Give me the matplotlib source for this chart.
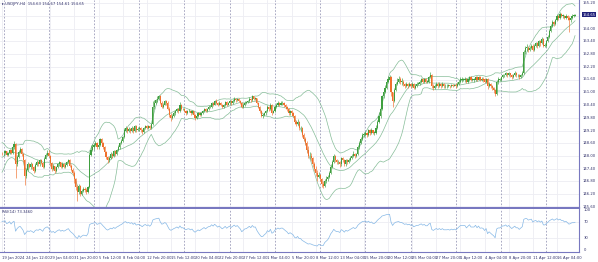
"""USDJPY H4 candles with Bollinger bands and RSI, MT4 style."""

import matplotlib

matplotlib.use('Agg')
import matplotlib.pyplot as plt
import numpy as np
import pandas as pd

# 20 bars before the first visible one, only used to seed the indicators
pre_closes = [147.05, 147.20, 147.10, 147.35, 147.60, 147.75, 147.90, 148.05, 148.30, 148.20,
              148.10, 147.95, 147.90, 148.05, 148.20, 148.30, 148.15, 148.05, 148.25, 148.15]

# visible bars: Fri 19 Jan 20:00, then one row per trading day (6 x H4)
closes = [
    148.12,
    148.15, 148.22, 148.05, 148.12, 148.30, 148.15,
    148.40, 148.55, 147.60, 147.95, 148.20, 148.32,
    148.10, 147.80, 147.05, 147.35, 147.60, 147.50,
    147.62, 147.48, 147.30, 147.58, 147.70, 147.62,
    147.80, 147.68, 147.50, 147.88, 148.05, 148.15,
    148.00, 147.65, 147.40, 147.52, 147.30, 147.48,
    147.60, 147.70, 147.50, 147.62, 147.50, 147.58,
    147.70, 147.80, 147.55, 147.35, 147.20, 146.90,
    146.55, 146.30, 146.60, 146.20, 146.35, 146.45,
    146.40, 146.30, 146.55, 148.05, 148.30, 148.40,
    148.50, 148.62, 148.40, 148.52, 148.78, 148.62,
    148.40, 148.20, 147.95, 147.80, 147.92, 148.10,
    148.00, 148.22, 148.10, 148.30, 148.42, 148.60,
    148.72, 148.90, 149.20, 149.30, 149.18, 149.28,
    149.20, 149.32, 149.18, 149.40, 149.22, 149.28,
    149.30, 149.22, 149.12, 149.30, 149.40, 149.32,
    149.40, 149.30, 149.50, 150.30, 150.50, 150.62,
    150.70, 150.80, 150.50, 150.30, 150.42, 150.60,
    150.50, 150.22, 149.92, 149.80, 149.90, 150.02,
    150.10, 150.22, 150.10, 150.40, 150.20, 150.22,
    150.10, 150.02, 150.10, 150.12, 150.02, 150.10,
    149.92, 149.80, 149.90, 150.00, 149.92, 150.02,
    150.10, 150.20, 150.10, 150.22, 150.30, 150.32,
    150.48, 150.40, 150.58, 150.50, 150.40, 150.50,
    150.42, 150.32, 150.40, 150.52, 150.40, 150.50,
    150.58, 150.50, 150.60, 150.70, 150.62, 150.70,
    150.60, 150.50, 150.30, 150.40, 150.50, 150.52,
    150.60, 150.70, 150.62, 150.80, 150.70, 150.72,
    150.50, 150.30, 150.10, 149.90, 149.92, 150.02,
    150.10, 150.30, 150.20, 150.40, 150.02, 150.10,
    150.30, 150.40, 150.50, 150.42, 150.50, 150.50,
    150.40, 150.30, 150.20, 150.02, 150.10, 150.00,
    149.90, 149.60, 149.50, 149.60, 149.30, 149.30,
    149.00, 148.80, 148.60, 148.30, 148.00, 148.02,
    147.90, 147.60, 147.40, 147.20, 147.00, 147.10,
    146.90, 146.70, 146.60, 146.80, 146.90, 147.00,
    147.20, 147.50, 147.70, 148.00, 147.80, 147.70,
    147.70, 147.60, 147.90, 147.80, 147.60, 147.80,
    147.70, 147.80, 147.90, 148.00, 148.10, 148.00,
    148.10, 148.40, 148.60, 148.80, 149.00, 149.00,
    149.10, 149.00, 149.20, 149.10, 149.20, 149.10,
    149.10, 149.30, 149.60, 149.90, 150.20, 150.80,
    151.00, 151.20, 151.50, 151.60, 151.70, 151.00,
    150.60, 151.10, 151.40, 151.50, 151.60, 151.50,
    151.50, 151.40, 151.30, 151.40, 151.30, 151.40,
    151.30, 151.40, 151.20, 151.30, 151.40, 151.40,
    151.50, 151.60, 151.50, 151.60, 151.50, 151.50,
    151.70, 151.80, 151.30, 151.20, 151.30, 151.40,
    151.30, 151.40, 151.30, 151.40, 151.30, 151.30,
    151.30, 151.32, 151.28, 151.35, 151.30, 151.35,
    151.30, 151.40, 151.50, 151.60, 151.60, 151.60,
    151.60, 151.50, 151.60, 151.70, 151.60, 151.60,
    151.60, 151.70, 151.60, 151.70, 151.60, 151.62,
    151.60, 151.50, 151.60, 151.30, 151.40, 151.30,
    151.20, 151.10, 150.90, 151.50, 151.60, 151.60,
    151.70, 151.80, 151.80, 151.90, 151.80, 151.90,
    151.80, 151.70, 151.80, 151.90, 151.80, 151.80,
    151.70, 151.80, 151.90, 152.90, 153.10, 153.10,
    153.00, 153.10, 153.20, 153.00, 153.20, 153.30,
    153.20, 153.40, 153.30, 153.50, 153.20, 153.20,
    153.40, 153.60, 153.90, 154.10, 154.30, 154.20,
    154.40, 154.60, 154.50, 154.70, 154.60, 154.60,
    154.50, 154.60, 154.50, 154.40, 154.50, 154.60,
    154.60, 154.65,
]

highs = [
    148.20,
    148.25, 148.30, 148.25, 148.20, 148.35, 148.32,
    148.48, 148.70, 148.60, 148.05, 148.28, 148.40,
    148.38, 148.15, 147.85, 147.45, 147.70, 147.68,
    147.70, 147.65, 147.55, 147.65, 147.82, 147.75,
    147.88, 147.85, 147.72, 147.95, 148.12, 148.30,
    148.30, 148.05, 147.70, 147.60, 147.55, 147.55,
    147.68, 147.78, 147.72, 147.70, 147.65, 147.65,
    147.78, 147.88, 147.85, 147.60, 147.45, 147.30,
    146.95, 146.65, 146.70, 146.65, 146.45, 146.55,
    146.52, 146.48, 146.60, 148.20, 148.50, 148.55,
    148.60, 148.70, 148.68, 148.60, 148.85, 148.85,
    148.68, 148.45, 148.25, 148.00, 148.00, 148.18,
    148.15, 148.30, 148.28, 148.35, 148.50, 148.68,
    148.80, 148.95, 149.30, 149.40, 149.35, 149.35,
    149.32, 149.40, 149.35, 149.48, 149.45, 149.35,
    149.40, 149.35, 149.28, 149.35, 149.48, 149.45,
    149.48, 149.45, 149.55, 150.60, 150.62, 150.70,
    150.80, 150.88, 150.85, 150.58, 150.50, 150.65,
    150.65, 150.58, 150.30, 150.00, 149.98, 150.10,
    150.18, 150.28, 150.28, 150.55, 150.45, 150.28,
    150.28, 150.15, 150.18, 150.20, 150.18, 150.15,
    150.12, 149.98, 149.98, 150.08, 150.05, 150.08,
    150.15, 150.28, 150.25, 150.28, 150.38, 150.40,
    150.55, 150.52, 150.65, 150.68, 150.55, 150.58,
    150.55, 150.45, 150.45, 150.60, 150.58, 150.55,
    150.65, 150.62, 150.68, 150.78, 150.75, 150.75,
    150.75, 150.65, 150.55, 150.48, 150.58, 150.58,
    150.65, 150.78, 150.75, 150.85, 150.84, 150.78,
    150.75, 150.55, 150.35, 150.15, 150.00, 150.08,
    150.18, 150.38, 150.35, 150.48, 150.45, 150.18,
    150.38, 150.48, 150.58, 150.55, 150.58, 150.58,
    150.55, 150.45, 150.35, 150.25, 150.18, 150.15,
    150.08, 149.95, 149.70, 149.72, 149.65, 149.40,
    149.35, 149.10, 148.90, 148.70, 148.45, 148.20,
    148.15, 147.95, 147.70, 147.55, 147.35, 147.25,
    147.15, 146.95, 146.80, 146.90, 147.05, 147.10,
    147.30, 147.60, 147.80, 148.10, 148.05, 147.85,
    147.80, 147.75, 147.95, 147.95, 147.85, 147.88,
    147.88, 147.90, 147.98, 148.10, 148.25, 148.15,
    148.15, 148.50, 148.70, 148.90, 149.10, 149.15,
    149.20, 149.15, 149.28, 149.25, 149.30, 149.22,
    149.20, 149.45, 149.70, 150.05, 150.30, 150.85,
    151.10, 151.35, 151.60, 151.75, 151.82, 151.75,
    150.95, 151.20, 151.50, 151.65, 151.78, 151.70,
    151.65, 151.58, 151.45, 151.50, 151.45, 151.48,
    151.45, 151.48, 151.45, 151.38, 151.48, 151.50,
    151.58, 151.68, 151.65, 151.68, 151.65, 151.58,
    151.78, 151.97, 151.85, 151.40, 151.38, 151.48,
    151.48, 151.50, 151.45, 151.48, 151.45, 151.38,
    151.38, 151.38, 151.35, 151.40, 151.38, 151.40,
    151.42, 151.48, 151.58, 151.70, 151.70, 151.68,
    151.70, 151.65, 151.68, 151.78, 151.78, 151.68,
    151.68, 151.78, 151.75, 151.78, 151.75, 151.70,
    151.70, 151.65, 151.68, 151.65, 151.48, 151.45,
    151.35, 151.25, 151.15, 151.60, 151.70, 151.68,
    151.78, 151.85, 151.88, 151.95, 151.92, 151.95,
    151.92, 151.85, 151.88, 151.98, 151.95, 151.88,
    151.85, 151.88, 151.98, 153.00, 153.20, 153.25,
    153.18, 153.20, 153.28, 153.25, 153.28, 153.38,
    153.35, 153.45, 153.45, 153.60, 153.55, 153.30,
    153.45, 153.68, 154.00, 154.20, 154.40, 154.35,
    154.45, 154.68, 154.65, 154.78, 154.75, 154.70,
    154.65, 154.70, 154.62, 154.60, 154.58, 154.68,
    154.70, 154.68,
]

lows = [
    148.05,
    148.02, 148.08, 147.98, 148.00, 148.08, 148.08,
    148.10, 148.35, 146.95, 147.55, 147.90, 148.15,
    148.02, 147.72, 146.65, 146.95, 147.30, 147.42,
    147.40, 147.40, 147.22, 147.25, 147.52, 147.55,
    147.55, 147.62, 147.42, 147.45, 147.85, 148.00,
    147.95, 147.55, 147.30, 147.35, 147.22, 147.25,
    147.42, 147.55, 147.45, 147.45, 147.42, 147.45,
    147.55, 147.65, 147.50, 147.28, 147.10, 146.75,
    146.40, 145.89, 146.20, 146.10, 146.15, 146.30,
    146.30, 146.20, 146.25, 146.50, 148.00, 148.25,
    148.30, 148.45, 148.32, 148.35, 148.45, 148.55,
    148.35, 148.12, 147.85, 147.65, 147.72, 147.88,
    147.92, 147.95, 148.02, 148.05, 148.25, 148.35,
    148.55, 148.65, 148.85, 149.12, 149.10, 149.12,
    149.10, 149.15, 149.10, 149.12, 149.15, 149.18,
    149.18, 149.15, 149.05, 149.08, 149.25, 149.28,
    149.25, 149.25, 149.25, 149.45, 150.20, 150.45,
    150.55, 150.65, 150.45, 150.25, 150.25, 150.38,
    150.40, 150.15, 149.85, 149.65, 149.72, 149.85,
    149.95, 150.05, 150.02, 150.05, 150.15, 150.15,
    150.05, 149.95, 149.98, 150.05, 149.95, 149.98,
    149.85, 149.70, 149.75, 149.85, 149.88, 149.88,
    149.98, 150.05, 150.05, 150.08, 150.15, 150.25,
    150.28, 150.35, 150.38, 150.45, 150.35, 150.38,
    150.35, 150.25, 150.28, 150.35, 150.35, 150.38,
    150.45, 150.42, 150.45, 150.55, 150.55, 150.58,
    150.52, 150.45, 150.25, 150.25, 150.35, 150.45,
    150.48, 150.55, 150.55, 150.58, 150.65, 150.62,
    150.45, 150.25, 150.02, 149.85, 149.80, 149.88,
    149.95, 150.05, 150.12, 150.15, 149.92, 150.00,
    150.05, 150.25, 150.35, 150.35, 150.38, 150.42,
    150.32, 150.22, 150.12, 149.95, 149.95, 149.92,
    149.82, 149.50, 149.40, 149.45, 149.22, 149.20,
    148.90, 148.70, 148.50, 148.15, 147.90, 147.85,
    147.75, 147.50, 147.30, 147.05, 146.80, 146.95,
    146.80, 146.55, 146.48, 146.55, 146.72, 146.80,
    146.95, 147.15, 147.45, 147.65, 147.70, 147.62,
    147.60, 147.50, 147.55, 147.70, 147.55, 147.55,
    147.60, 147.65, 147.75, 147.85, 147.95, 147.92,
    147.95, 148.05, 148.35, 148.55, 148.75, 148.88,
    148.95, 148.90, 148.95, 149.00, 149.05, 149.02,
    148.98, 149.05, 149.25, 149.55, 149.80, 150.15,
    150.75, 150.95, 151.15, 151.45, 151.55, 150.80,
    150.30, 150.55, 151.05, 151.35, 151.45, 151.40,
    151.35, 151.30, 151.20, 151.25, 151.22, 151.28,
    151.22, 151.25, 151.15, 151.15, 151.25, 151.32,
    151.35, 151.45, 151.42, 151.45, 151.45, 151.42,
    151.45, 151.65, 151.20, 151.10, 151.15, 151.25,
    151.22, 151.25, 151.22, 151.25, 151.22, 151.22,
    151.22, 151.25, 151.22, 151.25, 151.25, 151.28,
    151.20, 151.25, 151.35, 151.45, 151.50, 151.52,
    151.50, 151.42, 151.45, 151.55, 151.52, 151.52,
    151.50, 151.55, 151.55, 151.58, 151.55, 151.55,
    151.50, 151.42, 151.45, 151.15, 151.25, 151.22,
    151.10, 150.95, 150.80, 150.85, 151.40, 151.52,
    151.55, 151.65, 151.70, 151.75, 151.72, 151.75,
    151.72, 151.62, 151.65, 151.75, 151.72, 151.72,
    151.62, 151.65, 151.75, 151.85, 152.80, 152.95,
    152.90, 152.95, 153.05, 152.95, 152.95, 153.15,
    153.10, 153.15, 153.20, 153.25, 153.15, 153.12,
    153.15, 153.35, 153.55, 153.85, 154.05, 154.12,
    154.15, 154.35, 154.40, 154.45, 154.52, 154.50,
    154.45, 154.45, 154.40, 153.85, 154.30, 154.45,
    154.52, 154.58,
]

price_ticks = [155.20, 154.60, 154.00, 153.40, 152.80, 152.20, 151.60, 151.00, 150.40,
               149.80, 149.20, 148.60, 148.00, 147.40, 146.80, 146.20, 145.60]
rsi_ticks = [100, 70, 30, 0]
date_labels = ['19 Jan 2024', '24 Jan 12:00', '29 Jan 04:00', '31 Jan 20:00', '5 Feb 12:00',
               '8 Feb 04:00', '12 Feb 20:00', '15 Feb 12:00', '20 Feb 04:00', '22 Feb 20:00',
               '27 Feb 12:00', '1 Mar 04:00', '5 Mar 20:00', '8 Mar 12:00', '13 Mar 04:00',
               '15 Mar 20:00', '20 Mar 12:00', '25 Mar 04:00', '27 Mar 20:00', '1 Apr 12:00',
               '4 Apr 04:00', '8 Apr 20:00', '11 Apr 12:00', '16 Apr 04:00']
label_step = 16      # bars between time labels
week_bars = 30       # H4 bars per trading week, first Monday is bar 1

header = 'USDJPY,H4  154.63 154.67 154.61 154.65'
rsi_title = 'RSI(14) 73.3460'
last_price = '154.65'

UP = '#3f9f3f'
DOWN = '#f0702c'
BAND = '#86bd98'
AXIS = '#7878c0'
GRID = '#ededf3'
SEP = '#9a9ab8'
TEXT = '#30306a'
FS = 2.7

W, H = 598, 262
fig = plt.figure(figsize=(W / 100, H / 100), dpi=100)
fig.patch.set_facecolor('white')


def px_box(left, top, right, bottom):
    return [left / W, 1 - bottom / H, (right - left) / W, (bottom - top) / H]


ax = fig.add_axes(px_box(0, 0, 579, 208))
ax_rsi = fig.add_axes(px_box(0, 209, 579, 252), sharex=ax)

all_close = pd.Series(pre_closes + closes)
n_pre = len(pre_closes)
c = np.array(closes)
o = np.array([pre_closes[-1]] + closes[:-1])
h = np.maximum(np.array(highs), np.maximum(o, c))
lo = np.minimum(np.array(lows), np.minimum(o, c))
x = np.arange(len(c))
up = c >= o

# bollinger bands (20, 2)
mid = all_close.rolling(20).mean()
sd = all_close.rolling(20).std(ddof=0)
upper = (mid + 2 * sd).to_numpy()[n_pre:]
lower = (mid - 2 * sd).to_numpy()[n_pre:]
mid = mid.to_numpy()[n_pre:]

# RSI 14, Wilder smoothing
diff = all_close.diff()
gain = diff.clip(lower=0).ewm(alpha=1 / 14, adjust=False).mean()
loss = (-diff.clip(upper=0)).ewm(alpha=1 / 14, adjust=False).mean()
rsi = (100 - 100 / (1 + gain / loss)).to_numpy()[n_pre:]

xlim = (-2 / 1.508, -2 / 1.508 + 579 / 1.508)
for a in (ax, ax_rsi):
    a.set_facecolor('white')
    a.tick_params(left=False, bottom=False, labelleft=False, labelbottom=False,
                  right=False, labelright=False)
    for side in ('left', 'top', 'bottom'):
        a.spines[side].set_visible(False)
    a.spines['right'].set_color(AXIS)
    a.spines['right'].set_linewidth(0.8)
    for i in range(0, len(date_labels)):
        a.axvline(i * label_step, color=GRID, lw=0.6, zorder=0)
    for wk in range(1, len(c), week_bars):
        a.axvline(wk, color=SEP, lw=0.6, ls=(0, (2, 2)), zorder=0.5)
ax.set_xlim(xlim)

ax.set_ylim(155.2 - 205 / 21.25, 155.2 + 3 / 21.25)
for p in price_ticks:
    ax.axhline(p, color=GRID, lw=0.6, zorder=0)
    if f'{p:.2f}' != last_price:
        ax.text(1.006, p, f'{p:.2f}', transform=ax.get_yaxis_transform(), fontsize=FS,
                color=TEXT, va='center', ha='left')
ax.spines['bottom'].set_visible(True)
ax.spines['bottom'].set_color(AXIS)
ax.spines['bottom'].set_linewidth(1.6)

ax.plot(x, upper, color=BAND, lw=0.5, zorder=2)
ax.plot(x, mid, color=BAND, lw=0.5, zorder=2)
ax.plot(x, lower, color=BAND, lw=0.5, zorder=2)

colors = np.where(up, UP, DOWN)
ax.vlines(x, lo, h, colors=colors, lw=0.45, zorder=3)
ax.bar(x, np.maximum(np.abs(c - o), 0.015), bottom=np.minimum(o, c), width=0.75,
       color=colors, lw=0, zorder=4)

ax.text(0.004, 0.99, '\u25b8 ' + header, transform=ax.transAxes, fontsize=FS,
        color=TEXT, va='top', ha='left')
ax.text(1.006, float(last_price), last_price, transform=ax.get_yaxis_transform(),
        fontsize=FS, color='white', va='center', ha='left', zorder=6,
        bbox=dict(boxstyle='square,pad=0.2', fc='#20207a', ec='none'))

ax_rsi.set_ylim(-5, 102.5)
ax_rsi.plot(x, rsi, color='#86b8e6', lw=0.5, zorder=3)
for v in (70, 30):
    ax_rsi.axhline(v, color=GRID, lw=0.6, zorder=0)
for v in rsi_ticks:
    ax_rsi.text(1.008, v, str(v), transform=ax_rsi.get_yaxis_transform(), fontsize=FS,
                color=TEXT, va='center', ha='left')
ax_rsi.text(0.004, 0.97, rsi_title, transform=ax_rsi.transAxes, fontsize=FS,
            color=TEXT, va='top', ha='left')
ax_rsi.spines['bottom'].set_visible(True)
ax_rsi.spines['bottom'].set_color(AXIS)
ax_rsi.spines['bottom'].set_linewidth(0.8)

for i, lab in enumerate(date_labels):
    ax_rsi.text(i * label_step, -0.1, lab, transform=ax_rsi.get_xaxis_transform(),
                fontsize=FS, color=TEXT, va='top', ha='left')

fig.savefig('out.png', dpi=100, facecolor='white')
